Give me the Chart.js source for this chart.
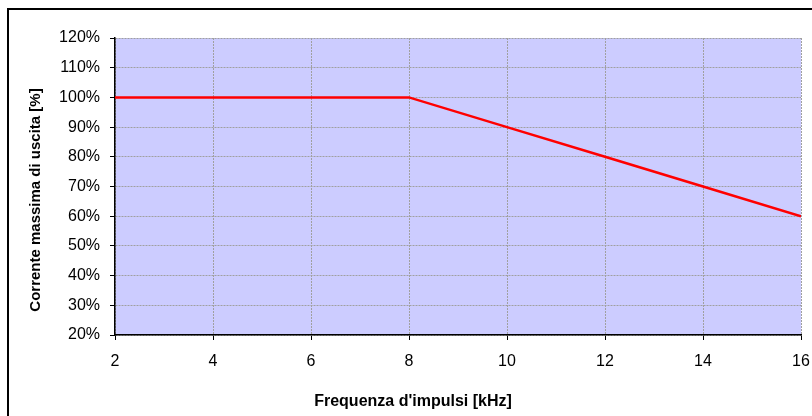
<!DOCTYPE html>
<html>
<head>
<meta charset="utf-8">
<script src="https://cdn.jsdelivr.net/npm/chart.js@4/dist/chart.umd.min.js"></script>
<style>
  body { margin: 0; background: #fff; overflow: hidden; }
  #frame { position: absolute; left: 7px; top: 8px; width: 900px; height: 500px; border: 2px solid #000; }
  #wrap { position: absolute; left: 0; top: 0; width: 812px; height: 416px; }
</style>
</head>
<body>
<div id="frame"></div>
<div id="wrap"><canvas id="chart" width="812" height="416"></canvas></div>
<script>
// frequency in kHz and max output current in %
let frequencies = [2, 4, 6, 8, 10, 12, 14, 16];
let currents = [100, 100, 100, 100, 90, 80, 70, 60];
let yTicks = [20, 30, 40, 50, 60, 70, 80, 90, 100, 110, 120];
let xTicks = [2, 4, 6, 8, 10, 12, 14, 16];

let xTitle = "Frequenza d'impulsi [kHz]";
let yTitle = "Corrente massima di uscita [%]";

let ctx = document.getElementById("chart").getContext("2d");
let fontFamily = "'Liberation Sans', Arial, sans-serif";

// fill plot area, draw axis titles where excel put them
let plotBg = {
    id: "plotBg",
    beforeDraw(chart) {
        let a = chart.chartArea;
        let c = chart.ctx;
        c.save();
        c.fillStyle = "#CCCCFF";
        c.fillRect(a.left, a.top, a.right - a.left, a.bottom - a.top);
        c.restore();
    },
    afterDraw(chart) {
        let c = chart.ctx;
        c.save();
        c.fillStyle = "#000";
        c.textAlign = "center";
        c.textBaseline = "middle";
        c.font = "bold 16px " + fontFamily;
        c.fillText(xTitle, 413, 402);
        c.font = "bold 15px " + fontFamily;
        c.translate(36, 200);
        c.rotate(-Math.PI / 2);
        c.fillText(yTitle, 0, 0);
        c.restore();
    }
};

let tickFont = { family: fontFamily, size: 16 };

let chart = new Chart(ctx, {
    type: "line",
    data: {
        datasets: [{
            data: frequencies.map((f, i) => ({ x: f, y: currents[i] })),
            borderColor: "#FF0000",
            borderWidth: 2.5,
            pointRadius: 0,
            fill: false,
            tension: 0
        }]
    },
    options: {
        responsive: false,
        animation: false,
        layout: { padding: { left: 0, top: 38, right: 11, bottom: 0 } },
        plugins: { legend: { display: false }, tooltip: { enabled: false } },
        scales: {
            x: {
                type: "linear",
                min: 2,
                max: 16,
                afterBuildTicks: s => { s.ticks = xTicks.map(v => ({ value: v })); },
                afterFit: s => { s.height = 81; s.paddingLeft = 0; s.paddingRight = 0; },
                ticks: { color: "#000", font: tickFont, padding: 12, maxRotation: 0 },
                grid: { color: "#a0a0a0", tickColor: "#000", tickLength: 5, tickBorderDash: [] },
                border: { color: "#000", width: 1.5, dash: [2, 1] }
            },
            y: {
                min: 20,
                max: 120,
                afterBuildTicks: s => { s.ticks = yTicks.map(v => ({ value: v })); },
                afterFit: s => { s.width = 115; s.paddingTop = 0; s.paddingBottom = 0; },
                ticks: { color: "#000", font: tickFont, padding: 10, callback: v => v + "%" },
                grid: { color: "#a0a0a0", tickColor: "#000", tickLength: 5, tickBorderDash: [] },
                border: { color: "#000", width: 1.5, dash: [2, 1] }
            }
        }
    },
    plugins: [plotBg]
});
</script>
</body>
</html>
